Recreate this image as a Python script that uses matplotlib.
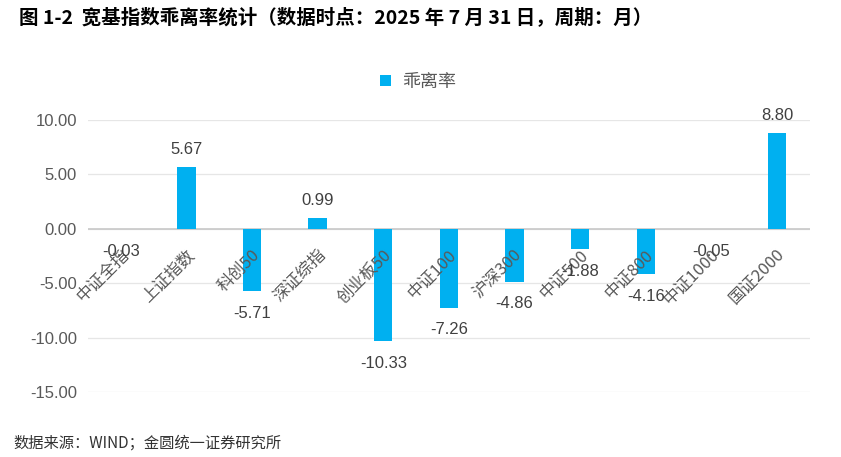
import numpy as np
import matplotlib
matplotlib.use('Agg')
import matplotlib.pyplot as plt

plt.rcParams['font.family'] = ['Noto Sans CJK SC', 'DejaVu Sans']
plt.rcParams['axes.unicode_minus'] = False

# data
categories = ['中证全指', '上证指数', '科创50', '深证综指', '创业板50', '中证100',
              '沪深300', '中证500', '中证800', '中证1000', '国证2000']
deviation = [-0.03, 5.67, -5.71, 0.99, -10.33, -7.26, -4.86, -1.88, -4.16, -0.05, 8.80]
yticks = [-15, -10, -5, 0, 5, 10]

bar_color = '#00B0F0'
text_color = '#595959'
num_font = ['Liberation Sans', 'DejaVu Sans']

fig = plt.figure(figsize=(8.41, 4.57), dpi=100)
ax = fig.add_axes([0.1046, 0.1422, 0.8584, 0.5952])

x = np.arange(len(categories))
bars = ax.bar(x, deviation, width=0.28, color=bar_color, label='乖离率', zorder=3)

ax.set_xlim(-0.5, len(categories) - 0.5)
ax.set_ylim(-15, 10)
ax.set_yticks(yticks)
ax.set_yticklabels(['%.2f' % v for v in yticks], fontsize=12, color=text_color,
                   family=num_font)
ax.tick_params(axis='y', length=0, pad=8)
ax.set_xticks([])

for s in ax.spines.values():
    s.set_visible(False)
ax.grid(axis='y', color='#e6e6e6', linewidth=0.9, zorder=0)
ax.axhline(0, color='#c8c8c8', linewidth=1.2, zorder=2)

# category labels next to the zero line, rotated
for xi, lab in zip(x, categories):
    ax.annotate(lab, xy=(xi, 0), xytext=(-0.5, -12.5), textcoords='offset points',
                rotation=45, ha='right', va='top', rotation_mode='anchor',
                fontsize=12, color=text_color, zorder=4)

# value labels
for xi, v in zip(x, deviation):
    if v >= 0:
        ax.annotate('%.2f' % v, xy=(xi, v), xytext=(0, 7), textcoords='offset points',
                    ha='center', va='bottom', fontsize=12, color='#404040',
                    family=num_font, zorder=5)
    else:
        ax.annotate('%.2f' % v, xy=(xi, v), xytext=(0, -10.5), textcoords='offset points',
                    ha='center', va='top', fontsize=12, color='#404040',
                    family=num_font, zorder=5)

ax.legend(loc='center', bbox_to_anchor=(0.457, 1.14), frameon=False, fontsize=13,
          handlelength=0.6, handleheight=0.6, handletextpad=0.6, labelcolor=text_color)

fig.text(0.022, 0.962, '图 1-2  宽基指数乖离率统计（数据时点：2025 年 7 月 31 日，周期：月）',
         fontsize=14, fontweight='bold', color='black', va='center')
fig.text(0.016, 0.03, '数据来源：WIND；金圆统一证券研究所', fontsize=11, color='#333333',
         va='center')

fig.savefig('out.png', dpi=100)
